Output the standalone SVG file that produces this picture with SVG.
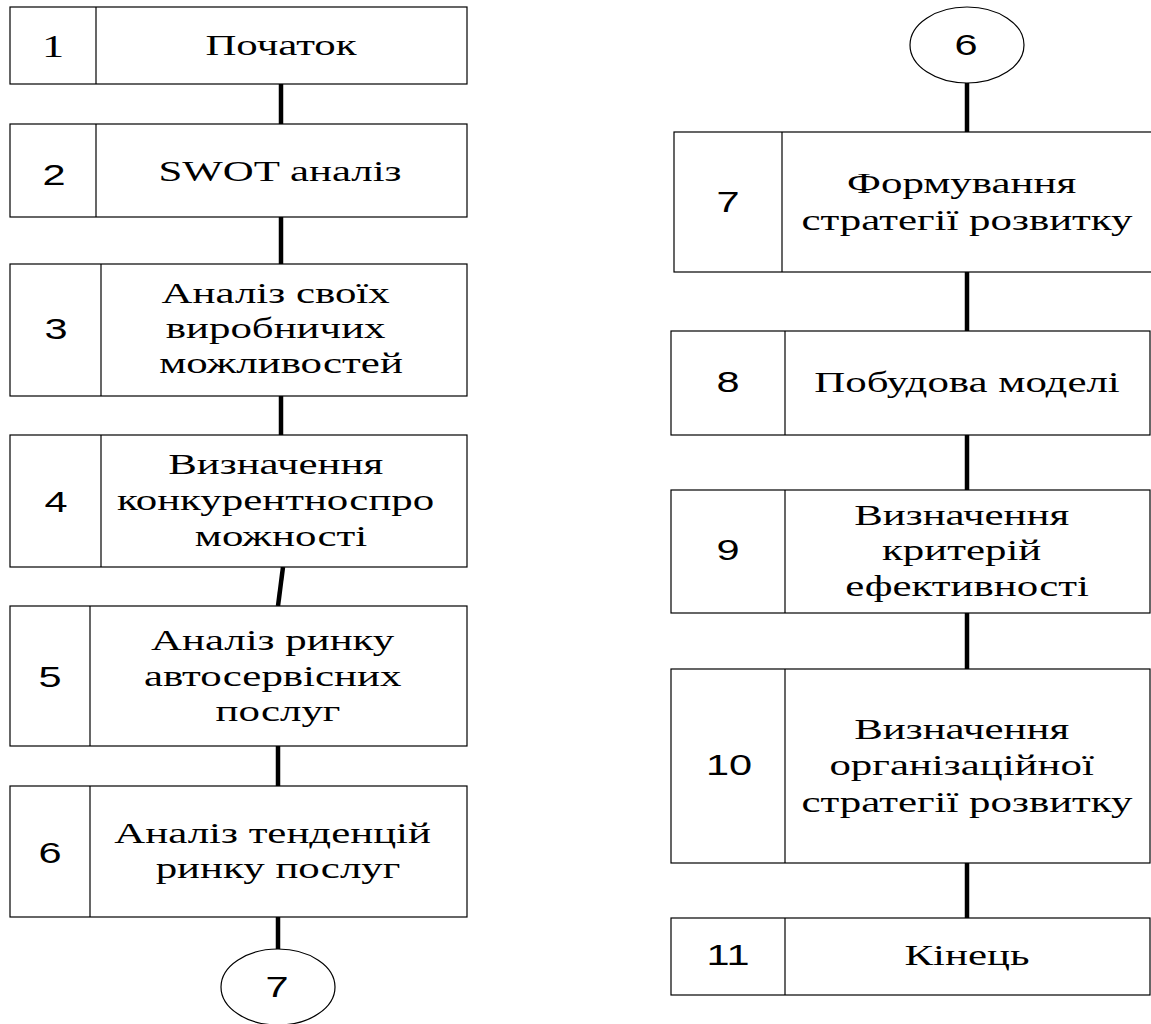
<svg xmlns="http://www.w3.org/2000/svg" width="1151" height="1024" viewBox="0 0 1151 1024">
  <style>
    .box { fill: #fff; stroke: #000; stroke-width: 1.2; }
    .div { stroke: #000; stroke-width: 1.2; }
    .conn { stroke: #000; stroke-width: 4.5; fill: none; }
    .oval { fill: #fff; stroke: #000; stroke-width: 1.2; }
    .t { font-family: 'Liberation Serif', 'Times New Roman', Tinos, 'DejaVu Serif', serif; font-size: 30px; text-anchor: middle; fill: #000; }
    .n { font-family: 'Liberation Sans', Arial, sans-serif; font-size: 29px; text-anchor: middle; fill: #000; }
    .ns { font-family: 'Liberation Serif', 'Times New Roman', Tinos, 'DejaVu Serif', serif; font-size: 31px; text-anchor: middle; fill: #000; }
  </style>
  <rect x="0" y="0" width="1151" height="1024" fill="#fff"/>

  <!-- connectors -->
  <g id="connectors">
    <line class="conn" x1="281" y1="84" x2="281" y2="124"/>
    <line class="conn" x1="281" y1="217" x2="281" y2="264"/>
    <line class="conn" x1="281" y1="396" x2="281" y2="435"/>
    <line class="conn" x1="283" y1="567" x2="278" y2="606"/>
    <line class="conn" x1="278" y1="746" x2="278" y2="786"/>
    <line class="conn" x1="278" y1="917" x2="278" y2="949"/>
    <line class="conn" x1="967" y1="83" x2="967" y2="132"/>
    <line class="conn" x1="967" y1="272" x2="967" y2="331"/>
    <line class="conn" x1="967" y1="435" x2="967" y2="490"/>
    <line class="conn" x1="967" y1="613" x2="967" y2="669"/>
    <line class="conn" x1="967" y1="863" x2="967" y2="918"/>
  </g>

  <!-- left column -->
  <g id="step1">
    <rect class="box" x="10" y="7" width="457" height="77"/>
    <line class="div" x1="96" y1="7" x2="96" y2="84"/>
    <text class="ns" transform="translate(53 0) scale(1.43 1)" y="57">1</text>
    <text class="t" transform="translate(281 0) scale(1.43 1)" y="55">Початок</text>
  </g>
  <g id="step2">
    <rect class="box" x="10" y="124" width="457" height="93"/>
    <line class="div" x1="96" y1="124" x2="96" y2="217"/>
    <text class="n" transform="translate(54 0) scale(1.43 1)" y="185">2</text>
    <text class="t" transform="translate(280 0) scale(1.43 1)" y="181">SWOT аналіз</text>
  </g>
  <g id="step3">
    <rect class="box" x="10" y="264" width="457" height="132"/>
    <line class="div" x1="101" y1="264" x2="101" y2="396"/>
    <text class="n" transform="translate(56 0) scale(1.43 1)" y="339">3</text>
    <text class="t" transform="translate(281 0) scale(1.43 1)">
      <tspan x="0" y="303">Аналіз своїх</tspan>
      <tspan x="0" y="338">виробничих</tspan>
      <tspan x="0" y="373">можливостей</tspan>
    </text>
  </g>
  <g id="step4">
    <rect class="box" x="10" y="435" width="457" height="132"/>
    <line class="div" x1="101" y1="435" x2="101" y2="567"/>
    <text class="n" transform="translate(56 0) scale(1.43 1)" y="512">4</text>
    <text class="t" transform="translate(281 0) scale(1.43 1)">
      <tspan x="0" y="474">Визначення</tspan>
      <tspan x="0" y="510">конкурентноспро</tspan>
      <tspan x="0" y="546">можності</tspan>
    </text>
  </g>
  <g id="step5">
    <rect class="box" x="10" y="606" width="457" height="140"/>
    <line class="div" x1="90" y1="606" x2="90" y2="746"/>
    <text class="n" transform="translate(50 0) scale(1.43 1)" y="687">5</text>
    <text class="t" transform="translate(278 0) scale(1.43 1)">
      <tspan x="0" y="650">Аналіз ринку</tspan>
      <tspan x="0" y="686">автосервісних</tspan>
      <tspan x="0" y="721">послуг</tspan>
    </text>
  </g>
  <g id="step6">
    <rect class="box" x="10" y="786" width="457" height="131"/>
    <line class="div" x1="90" y1="786" x2="90" y2="917"/>
    <text class="n" transform="translate(50 0) scale(1.43 1)" y="863">6</text>
    <text class="t" transform="translate(278 0) scale(1.43 1)">
      <tspan x="0" y="843">Аналіз тенденцій</tspan>
      <tspan x="0" y="878">ринку послуг</tspan>
    </text>
  </g>
  <g id="link-out-7">
    <ellipse class="oval" cx="278" cy="987" rx="57" ry="38"/>
    <text class="n" transform="translate(277 0) scale(1.43 1)" y="997">7</text>
  </g>

  <!-- right column -->
  <g id="link-in-6">
    <ellipse class="oval" cx="967" cy="45" rx="57" ry="38"/>
    <text class="n" transform="translate(966 0) scale(1.43 1)" y="55">6</text>
  </g>
  <g id="step7">
    <rect class="box" x="674" y="132" width="480" height="140"/>
    <line class="div" x1="782" y1="132" x2="782" y2="272"/>
    <text class="n" transform="translate(728 0) scale(1.43 1)" y="212">7</text>
    <text class="t" transform="translate(967 0) scale(1.43 1)">
      <tspan x="0" y="193">Формування</tspan>
      <tspan x="0" y="230">стратегії розвитку</tspan>
    </text>
  </g>
  <g id="step8">
    <rect class="box" x="671" y="331" width="479" height="104"/>
    <line class="div" x1="785" y1="331" x2="785" y2="435"/>
    <text class="n" transform="translate(728 0) scale(1.43 1)" y="392">8</text>
    <text class="t" transform="translate(967 0) scale(1.43 1)" y="392">Побудова моделі</text>
  </g>
  <g id="step9">
    <rect class="box" x="671" y="490" width="479" height="123"/>
    <line class="div" x1="785" y1="490" x2="785" y2="613"/>
    <text class="n" transform="translate(728 0) scale(1.43 1)" y="560">9</text>
    <text class="t" transform="translate(967 0) scale(1.43 1)">
      <tspan x="0" y="525">Визначення</tspan>
      <tspan x="0" y="560">критерій</tspan>
      <tspan x="0" y="596">ефективності</tspan>
    </text>
  </g>
  <g id="step10">
    <rect class="box" x="671" y="669" width="479" height="194"/>
    <line class="div" x1="785" y1="669" x2="785" y2="863"/>
    <text class="n" transform="translate(729 0) scale(1.43 1)" y="775">10</text>
    <text class="t" transform="translate(967 0) scale(1.43 1)">
      <tspan x="0" y="739">Визначення</tspan>
      <tspan x="0" y="775">організаційної</tspan>
      <tspan x="0" y="812">стратегії розвитку</tspan>
    </text>
  </g>
  <g id="step11">
    <rect class="box" x="671" y="918" width="479" height="77"/>
    <line class="div" x1="785" y1="918" x2="785" y2="995"/>
    <text class="n" transform="translate(728 0) scale(1.43 1)" y="965">11</text>
    <text class="t" transform="translate(967 0) scale(1.43 1)" y="965">Кінець</text>
  </g>
</svg>
